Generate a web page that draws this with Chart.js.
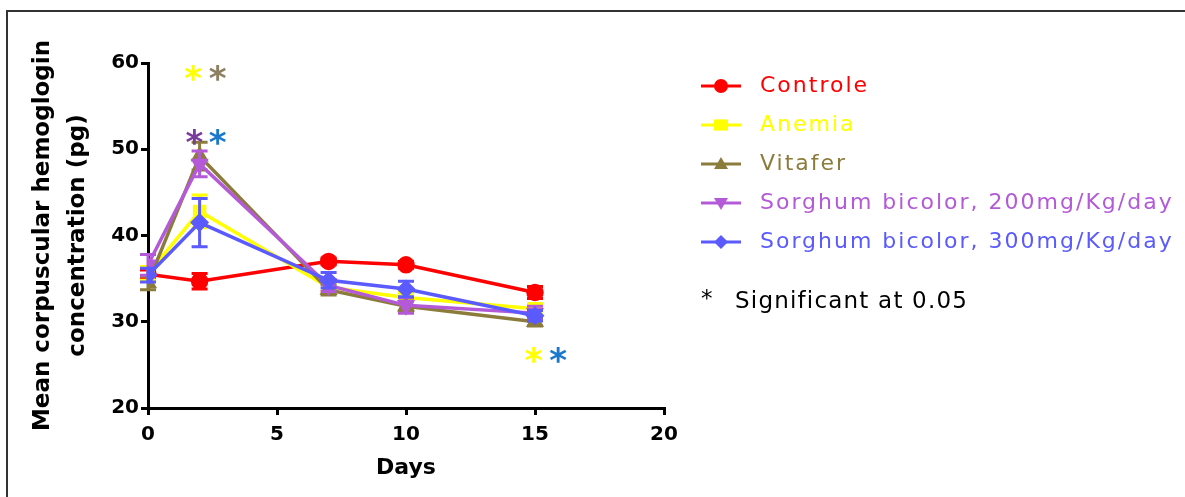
<!DOCTYPE html>
<html>
<head>
<meta charset="utf-8">
<script src="https://cdn.jsdelivr.net/npm/chart.js@4/dist/chart.umd.min.js"></script>
<style>
  body { margin: 0; background: #fff; }
  #frame { position: absolute; left: 6px; top: 10px; width: 1250px; height: 600px; border: 2px solid #333; }
  #myChart { position: absolute; left: 0; top: 0; }
</style>
</head>
<body>
<div id="frame"></div>
<canvas id="myChart" width="1185" height="497"></canvas>
<script>
const days = [0, 2, 7, 10, 15];
const seriesNames = ['Controle', 'Anemia', 'Vitafer', 'Sorghum bicolor, 200mg/Kg/day', 'Sorghum bicolor, 300mg/Kg/day'];
const controle = [35.5, 34.7, 37.0, 36.6, 33.4];
const anemia = [35.6, 42.8, 34.0, 32.8, 31.5];
const vitafer = [34.5, 49.2, 33.7, 31.8, 30.0];
const sorghum200 = [36.6, 48.3, 34.2, 31.9, 31.0];
const sorghum300 = [35.4, 41.5, 34.8, 33.8, 30.7];
const errControle = [0.5, 0.9, 0.4, 0.4, 0.7];
const errAnemia = [0.8, 1.9, 0.5, 0.6, 0.6];
const errVitafer = [0.8, 1.6, 0.6, 0.6, 0.5];
const errSorghum200 = [1.2, 1.5, 0.7, 0.9, 0.8];
const errSorghum300 = [0.8, 2.8, 0.9, 0.9, 0.6];
const yTicks = [20, 30, 40, 50, 60];
const xTicks = [0, 5, 10, 15, 20];
// significance marks (day, value)
const sigDays = [1.75, 2.7, 1.8, 2.7, 14.95, 15.9];
const sigValues = [58.8, 58.8, 51.4, 51.4, 26.1, 26.1];

const colors = ['#ff0000', '#ffff00', '#8c7c3c', '#b45ad8', '#5a5aff'];
const sigColors = ['#ffff00', '#8c8060', '#7a3c9c', '#1a78cc', '#ffff00', '#1a78cc'];
const styles = ['circle', 'rect', 'triangle', 'triangle', 'rectRot'];
const rotations = [0, 0, 0, 180, 0];

const allValues = [controle, anemia, vitafer, sorghum200, sorghum300];
const allErrors = [errControle, errAnemia, errVitafer, errSorghum200, errSorghum300];

const ctx = document.getElementById('myChart');

function drawMarker(c, style, rot, x, y, r) {
  c.beginPath();
  if (style == 'circle') {
    c.arc(x, y, r, 0, Math.PI * 2);
  } else if (style == 'rect') {
    c.rect(x - r, y - r * 0.8, r * 2, r * 1.6);
  } else if (style == 'triangle') {
    let s = rot == 180 ? -1 : 1;
    c.moveTo(x, y - s * r);
    c.lineTo(x + r, y + s * r * 0.7);
    c.lineTo(x - r, y + s * r * 0.7);
    c.closePath();
  } else {
    c.moveTo(x, y - r);
    c.lineTo(x + r, y);
    c.lineTo(x, y + r);
    c.lineTo(x - r, y);
    c.closePath();
  }
  c.fill();
}

const extras = {
  id: 'extras',
  afterDatasetDraw(chart, args) {
    let i = args.index;
    let c = chart.ctx;
    let xs = chart.scales.x, ys = chart.scales.y;
    c.save();
    c.strokeStyle = colors[i];
    c.lineWidth = 3;
    days.forEach((d, j) => {
      let px = xs.getPixelForValue(d);
      let top = ys.getPixelForValue(allValues[i][j] + allErrors[i][j]);
      let bot = ys.getPixelForValue(allValues[i][j] - allErrors[i][j]);
      c.beginPath();
      c.moveTo(px, top); c.lineTo(px, bot);
      c.moveTo(px - 8, top); c.lineTo(px + 8, top);
      c.moveTo(px - 8, bot); c.lineTo(px + 8, bot);
      c.stroke();
    });
    c.restore();
  },
  afterDraw(chart) {
    let c = chart.ctx;
    let xs = chart.scales.x, ys = chart.scales.y;
    c.save();
    // asterisks
    c.font = 'bold 34px "DejaVu Sans"';
    c.textAlign = 'center';
    c.textBaseline = 'middle';
    sigDays.forEach((d, k) => {
      c.fillStyle = sigColors[k];
      c.fillText('*', xs.getPixelForValue(d), ys.getPixelForValue(sigValues[k]) + 8);
    });
    // legend
    c.textAlign = 'left';
    c.font = '22px "DejaVu Sans"';
    c.letterSpacing = '2px';
    seriesNames.forEach((name, i) => {
      let y = 86 + i * 39;
      c.strokeStyle = colors[i];
      c.fillStyle = colors[i];
      c.lineWidth = 3;
      c.beginPath();
      c.moveTo(701, y); c.lineTo(741, y);
      c.stroke();
      drawMarker(c, styles[i], rotations[i], 721, y, 7);
      c.fillText(name, 760, y);
    });
    c.fillStyle = '#000';
    c.font = '23px "DejaVu Sans"';
    c.letterSpacing = '1.2px';
    c.fillText('*', 701, 300);
    c.fillText('Significant at 0.05', 735, 302);
    c.restore();
  }
};

new Chart(ctx, {
  type: 'line',
  data: {
    datasets: seriesNames.map((name, i) => ({
      label: name,
      data: days.map((d, j) => ({x: d, y: allValues[i][j]})),
      borderColor: colors[i],
      backgroundColor: colors[i],
      borderWidth: 3.5,
      pointStyle: styles[i],
      pointRotation: rotations[i],
      pointRadius: 7,
      tension: 0,
      order: 5 - i
    }))
  },
  options: {
    responsive: false,
    animation: false,
    layout: { padding: { left: 0, top: 63, right: 521, bottom: 12 } },
    plugins: { legend: { display: false }, tooltip: { enabled: false } },
    scales: {
      x: {
        type: 'linear',
        min: 0, max: 20,
        afterBuildTicks: s => { s.ticks = xTicks.map(v => ({value: v})); },
        afterFit: s => { s.height = 77; },
        border: { color: '#000', width: 3 },
        grid: { drawOnChartArea: false, color: '#000', lineWidth: 3, tickLength: 7 },
        ticks: { color: '#000', font: { family: 'DejaVu Sans', weight: 'bold', size: 20 }, padding: 8 },
        title: { display: true, text: 'Days', color: '#000', font: { family: 'DejaVu Sans', weight: 'bold', size: 22 }, padding: { top: 4 } }
      },
      y: {
        min: 20, max: 60,
        afterBuildTicks: s => { s.ticks = yTicks.map(v => ({value: v})); },
        afterFit: s => { s.width = 148; },
        border: { color: '#000', width: 3 },
        grid: { drawOnChartArea: false, color: '#000', lineWidth: 3, tickLength: 7 },
        ticks: { color: '#000', font: { family: 'DejaVu Sans', weight: 'bold', size: 20 }, padding: 2 },
        title: { display: true, text: ['Mean corpuscular hemoglogin', 'concentration (pg)'], color: '#000', font: { family: 'DejaVu Sans', weight: 'bold', size: 23, lineHeight: 1.5 }, padding: { top: 26, bottom: 0 } }
      }
    }
  },
  plugins: [extras]
});
</script>
</body>
</html>
